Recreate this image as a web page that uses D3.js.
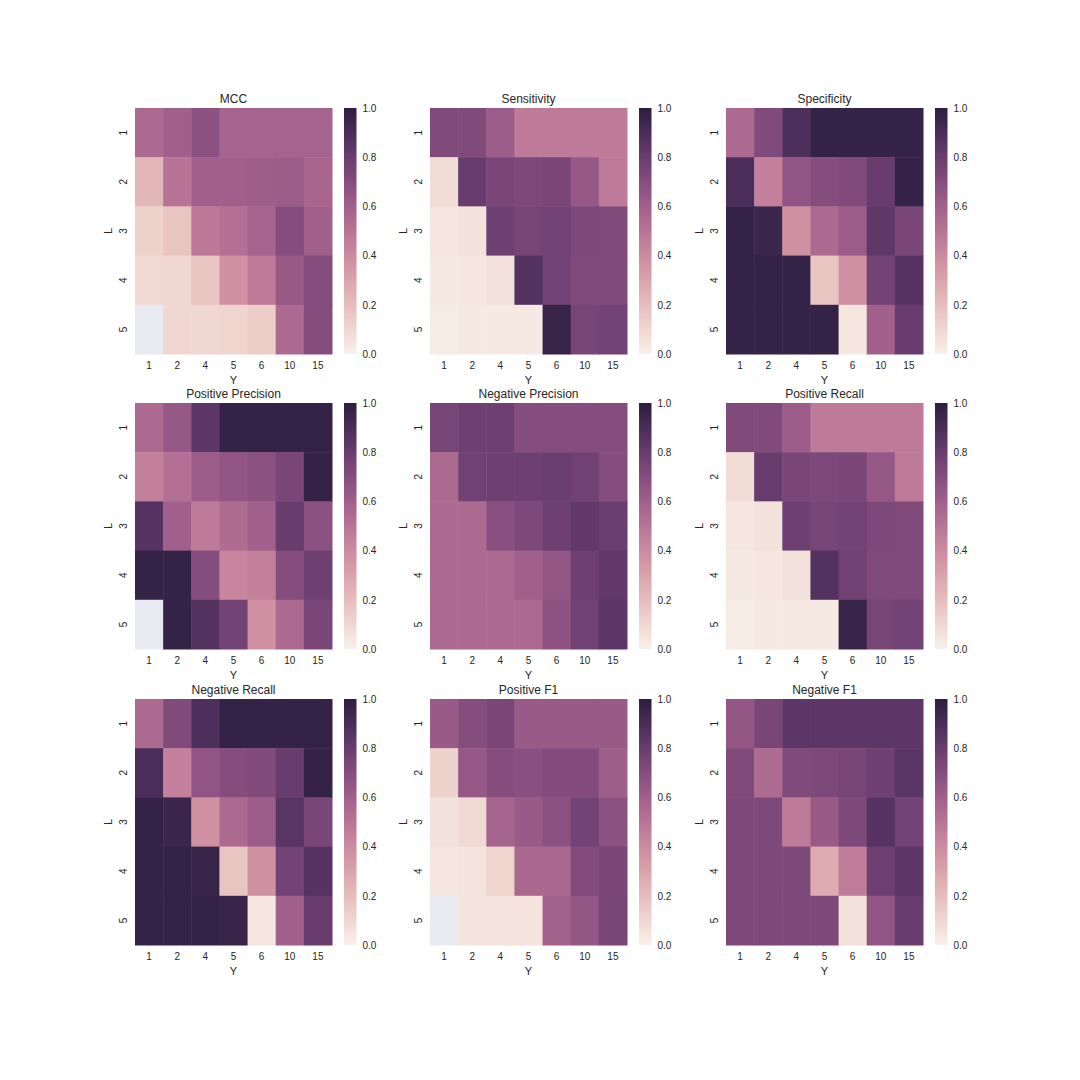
<!DOCTYPE html>
<html>
<head>
<meta charset="utf-8">
<script src="https://cdn.jsdelivr.net/npm/d3@7"></script>
<style>
  body { margin: 0; background: #fff; }
  svg text { font-family: "Liberation Sans", Arial, sans-serif; fill: #262626; }
</style>
</head>
<body>
<div id="chart"></div>
<script>
// ─── DATA ─────────────────────────────────────────────────────────────────────
// rows = L (1..5), columns = Y (1,2,4,5,6,10,15); null = missing cell
const yLabels = ["1", "2", "4", "5", "6", "10", "15"];
const lLabels = ["1", "2", "3", "4", "5"];
const cbTicks = [0, 0.2, 0.4, 0.6, 0.8, 1.0];

const mcc = [
  [0.55, 0.60, 0.68, 0.58, 0.58, 0.58, 0.58],
  [0.23, 0.50, 0.60, 0.60, 0.61, 0.62, 0.57],
  [0.12, 0.17, 0.48, 0.52, 0.58, 0.70, 0.60],
  [0.09, 0.10, 0.17, 0.37, 0.47, 0.63, 0.70],
  [null, 0.10, 0.10, 0.11, 0.14, 0.55, 0.70]
];
const sensitivity = [
  [0.72, 0.72, 0.62, 0.47, 0.47, 0.47, 0.47],
  [0.08, 0.80, 0.74, 0.73, 0.74, 0.64, 0.47],
  [0.04, 0.06, 0.78, 0.75, 0.76, 0.73, 0.72],
  [0.03, 0.04, 0.06, 0.87, 0.76, 0.72, 0.72],
  [0.02, 0.03, 0.03, 0.03, 0.96, 0.75, 0.76]
];
const specificity = [
  [0.55, 0.72, 0.89, 0.97, 0.97, 0.97, 0.97],
  [0.90, 0.45, 0.66, 0.70, 0.72, 0.80, 0.97],
  [0.97, 0.95, 0.37, 0.55, 0.62, 0.83, 0.74],
  [0.97, 0.97, 0.97, 0.17, 0.37, 0.76, 0.86],
  [0.97, 0.97, 0.97, 0.97, 0.04, 0.60, 0.80]
];
const posPrecision = [
  [0.55, 0.64, 0.84, 0.97, 0.97, 0.97, 0.97],
  [0.45, 0.52, 0.62, 0.66, 0.68, 0.74, 0.97],
  [0.86, 0.60, 0.47, 0.54, 0.60, 0.80, 0.68],
  [0.97, 0.97, 0.70, 0.42, 0.45, 0.70, 0.78],
  [null, 0.97, 0.87, 0.76, 0.38, 0.55, 0.74]
];
const negPrecision = [
  [0.75, 0.78, 0.78, 0.70, 0.70, 0.70, 0.70],
  [0.55, 0.77, 0.78, 0.78, 0.79, 0.77, 0.70],
  [0.55, 0.55, 0.69, 0.73, 0.78, 0.82, 0.79],
  [0.55, 0.55, 0.55, 0.60, 0.65, 0.78, 0.82],
  [0.55, 0.55, 0.55, 0.55, 0.67, 0.77, 0.84]
];
const posRecall = [
  [0.72, 0.72, 0.62, 0.47, 0.47, 0.47, 0.47],
  [0.08, 0.80, 0.74, 0.73, 0.74, 0.64, 0.47],
  [0.04, 0.06, 0.78, 0.75, 0.76, 0.73, 0.72],
  [0.03, 0.04, 0.06, 0.87, 0.77, 0.72, 0.72],
  [0.02, 0.03, 0.03, 0.03, 0.96, 0.75, 0.76]
];
const negRecall = [
  [0.55, 0.72, 0.89, 0.97, 0.97, 0.97, 0.97],
  [0.90, 0.45, 0.66, 0.70, 0.72, 0.80, 0.97],
  [0.97, 0.95, 0.37, 0.55, 0.62, 0.85, 0.74],
  [0.97, 0.97, 0.96, 0.17, 0.37, 0.76, 0.86],
  [0.97, 0.97, 0.97, 0.96, 0.04, 0.60, 0.80]
];
const posF1 = [
  [0.63, 0.70, 0.74, 0.63, 0.63, 0.63, 0.63],
  [0.12, 0.64, 0.70, 0.69, 0.71, 0.71, 0.61],
  [0.06, 0.09, 0.58, 0.63, 0.68, 0.76, 0.68],
  [0.04, 0.05, 0.11, 0.56, 0.56, 0.71, 0.74],
  [null, 0.05, 0.05, 0.05, 0.59, 0.65, 0.75]
];
const negF1 = [
  [0.65, 0.74, 0.84, 0.84, 0.84, 0.84, 0.84],
  [0.72, 0.54, 0.72, 0.73, 0.75, 0.78, 0.85],
  [0.73, 0.73, 0.47, 0.63, 0.73, 0.86, 0.76],
  [0.73, 0.73, 0.73, 0.27, 0.46, 0.78, 0.84],
  [0.73, 0.73, 0.73, 0.73, 0.06, 0.66, 0.80]
];

const panels = [
  { title: "MCC", values: mcc },
  { title: "Sensitivity", values: sensitivity },
  { title: "Specificity", values: specificity },
  { title: "Positive Precision", values: posPrecision },
  { title: "Negative Precision", values: negPrecision },
  { title: "Positive Recall", values: posRecall },
  { title: "Negative Recall", values: negRecall },
  { title: "Positive F1", values: posF1 },
  { title: "Negative F1", values: negF1 }
];

// ─── COLOUR MAP ───────────────────────────────────────────────────────────────
// seaborn cubehelix_palette(light=.95, dark=.15, start=0, rot=.4, hue=.8)
function cubehelix(v) {
  const x = 0.95 + (0.15 - 0.95) * v;
  const a = 0.8 * x * (1 - x) / 2;
  const phi = 2 * Math.PI * (0 / 3 + 0.4 * x);
  const c = Math.cos(phi), s = Math.sin(phi);
  const clip = t => Math.max(0, Math.min(1, t));
  const r = clip(x + a * (-0.14861 * c + 1.78277 * s));
  const g = clip(x + a * (-0.29227 * c - 0.90649 * s));
  const b = clip(x + a * (1.97294 * c));
  return d3.rgb(r * 255, g * 255, b * 255).toString();
}
const color = d3.scaleSequential(cubehelix).domain([0, 1]);
const nanColor = "#eaeaf2";

// ─── LAYOUT ───────────────────────────────────────────────────────────────────
const W = 1080, H = 1080;
const colLeft = [135, 430, 726];
const rowTop = [108, 403, 699];
const hmW = 197, hmH = 246;
const cbGap = 12, cbW = 12.5;

const svg = d3.select("#chart").append("svg")
  .attr("width", W).attr("height", H);

const defs = svg.append("defs");
const grad = defs.append("linearGradient")
  .attr("id", "cb-grad")
  .attr("x1", 0).attr("y1", 1).attr("x2", 0).attr("y2", 0);
d3.range(0, 1.0001, 0.05).forEach(t => {
  grad.append("stop").attr("offset", t).attr("stop-color", color(t));
});

panels.forEach((p, i) => {
  const col = i % 3, row = Math.floor(i / 3);
  const g = svg.append("g")
    .attr("transform", `translate(${colLeft[col]},${rowTop[row]})`);

  const x = d3.scaleBand().domain(yLabels).range([0, hmW]);
  const y = d3.scaleBand().domain(lLabels).range([0, hmH]);

  const cells = [];
  p.values.forEach((r, ri) => r.forEach((v, ci) => {
    cells.push({ l: lLabels[ri], y: yLabels[ci], v: v });
  }));

  g.selectAll("rect.cell")
    .data(cells)
    .join("rect")
    .attr("class", "cell")
    .attr("x", d => x(d.y))
    .attr("y", d => y(d.l))
    .attr("width", x.bandwidth() + 0.5)
    .attr("height", y.bandwidth() + 0.5)
    .attr("fill", d => d.v == null ? nanColor : color(d.v));

  // x axis (Y)
  const xa = g.append("g")
    .attr("transform", `translate(0,${hmH})`)
    .call(d3.axisBottom(x).tickSize(0).tickPadding(8));
  xa.select(".domain").remove();
  xa.selectAll("text").style("font-size", "10px").style("fill", "#262626");

  // y axis (L), labels rotated
  const ya = g.append("g")
    .call(d3.axisLeft(y).tickSize(0));
  ya.select(".domain").remove();
  ya.selectAll("text")
    .attr("x", 0).attr("dy", "0.35em")
    .attr("text-anchor", "middle")
    .attr("transform", "translate(-12,0) rotate(-90)")
    .style("font-size", "10px").style("fill", "#262626");

  g.append("text")
    .attr("x", hmW / 2).attr("y", hmH + 30)
    .attr("text-anchor", "middle")
    .style("font-size", "11px")
    .text("Y");

  g.append("text")
    .attr("transform", `translate(-27,${hmH / 2}) rotate(-90)`)
    .attr("text-anchor", "middle")
    .attr("dy", "0.35em")
    .style("font-size", "11px")
    .text("L");

  g.append("text")
    .attr("x", hmW / 2).attr("y", -5)
    .attr("text-anchor", "middle")
    .style("font-size", "12px")
    .text(p.title);

  // colour bar
  const cb = g.append("g").attr("transform", `translate(${hmW + cbGap},0)`);
  cb.append("rect")
    .attr("width", cbW).attr("height", hmH)
    .attr("fill", "url(#cb-grad)");
  const cbScale = d3.scaleLinear().domain([0, 1]).range([hmH, 0]);
  const ca = cb.append("g")
    .attr("transform", `translate(${cbW},0)`)
    .call(d3.axisRight(cbScale).tickValues(cbTicks).tickFormat(d3.format(".1f"))
      .tickSize(0).tickPadding(6));
  ca.select(".domain").remove();
  ca.selectAll("text").style("font-size", "10px").style("fill", "#262626");
});
</script>
</body>
</html>
